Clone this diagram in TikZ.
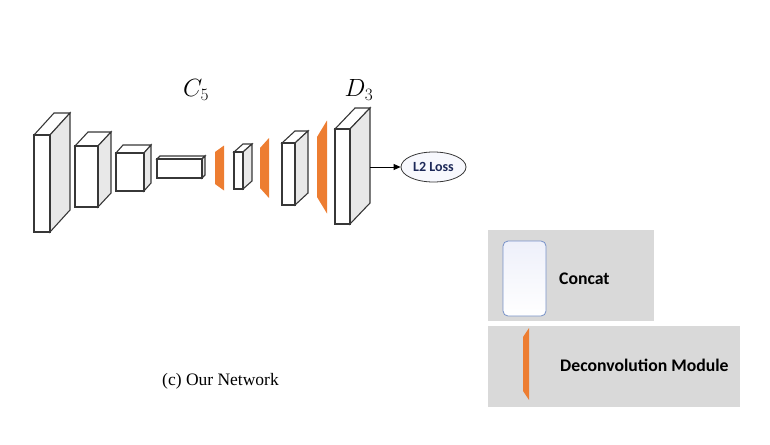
\documentclass[tikz,border=0pt]{standalone}
\usepackage{fontspec}
\newfontfamily\legendfont{Carlito}
\newfontfamily\captionfont{Liberation Serif}
\usetikzlibrary{arrows.meta}
\usetikzlibrary{shapes.geometric}
\definecolor{sidegray}{RGB}{232,232,232}
\definecolor{edgegray}{RGB}{55,55,55}
\definecolor{deconvorange}{RGB}{237,125,49}
\definecolor{legendgray}{RGB}{217,217,217}
\definecolor{concatblue}{RGB}{120,146,200}
\definecolor{concattint}{RGB}{238,240,250}
\definecolor{lossblue}{RGB}{28,40,88}
\definecolor{losstint}{RGB}{247,248,253}
\newcommand\featblock[7]{%
  \coordinate (#1) at (#2,#3);
  \filldraw[blockedge, fill=white] ({#2},{#3}) -- ({#2+#6},{#3+#7}) -- ({#2+#4+#6},{#3+#7}) -- ({#2+#4},{#3}) -- cycle;
  \filldraw[blockedge, fill=sidegray] ({#2+#4},{#3}) -- ({#2+#4+#6},{#3+#7}) -- ({#2+#4+#6},{#3+#5+#7}) -- ({#2+#4},{#3+#5}) -- cycle;
  \filldraw[blockedge, fill=white] ({#2},{#3}) rectangle ({#2+#4},{#3+#5});
}
\newcommand\deconvslice[6]{%
  \coordinate (#1) at ({(#2+#3)/2},#4);
  \fill[deconvorange] ({#2},{#4-#5}) -- ({#3},{#4-#6}) -- ({#3},{#4+#6}) -- ({#2},{#4+#5}) -- cycle;
}

\begin{document}
\begin{tikzpicture}[
    x=1pt, y=-1pt,
    blockedge/.style={draw=edgegray, line width=1.1pt, line join=miter},
    arrowtip/.style={
      -{Triangle[length=7pt,width=6pt]}, line width=0.8pt
    },
    lossnode/.style={ellipse, draw=edgegray, line width=0.8pt, fill=losstint,
      minimum width=65pt, minimum height=30pt, inner sep=0pt,
      font=\legendfont\bfseries\fontsize{14}{16}\selectfont, text=lossblue},
    legendpanel/.style={fill=legendgray, anchor=north west, inner sep=0pt},
    legendtext/.style={anchor=west, inner sep=0pt,
      font=\legendfont\bfseries\fontsize{17.7}{20}\selectfont},
    layerlabel/.style={font=\fontsize{23}{27}\selectfont}
  ]
    \useasboundingbox (0,0) rectangle (770,444);

    \featblock{c1}{34}{135}{16}{97}{20}{-22}
    \featblock{c2}{75}{146}{23}{61}{13}{-14}
    \featblock{c3}{116}{153}{28}{38}{7}{-8}
    \featblock{c5}{157}{159}{45}{19}{3}{-3}
    \deconvslice{up1}{215}{224}{168}{16}{22.5}
    \featblock{d1}{234}{152}{9}{37}{9}{-8}
    \deconvslice{up2}{260}{269}{168}{20}{30}
    \featblock{d2}{282}{143}{13}{62}{13}{-12}
    \deconvslice{up3}{317}{327}{167}{30}{46.5}
    \featblock{d3}{335}{129}{15}{95}{20}{-21}

    \node[layerlabel] (c5label) at (196,90) {$C_5$};
    \node[layerlabel] (d3label) at (359,90) {$D_3$};

    \coordinate (d3out) at (370,167);
    \node[lossnode] (loss) at (433.5,167) {L2 Loss};
    \draw[arrowtip] (d3out) -- (loss);

    \node[anchor=west, inner sep=0pt, font=\captionfont\fontsize{17.5}{20}\selectfont]
      (caption) at (162,381) {(c) Our Network};

    \node[legendpanel, minimum width=166pt, minimum height=91pt] (concatpanel) at (488,230) {};
    \node[legendpanel, minimum width=252pt, minimum height=81pt] (deconvpanel) at (488,326) {};
    \node[draw=concatblue, line width=0.8pt, rounded corners=5pt, top color=concattint,
      bottom color=white, minimum width=43pt, minimum height=75pt, inner sep=0pt]
      (concaticon) at (524.5,278.5) {};
    \deconvslice{deconvicon}{523}{529}{364}{27}{36}
    \node[legendtext] (concatlabel) at (559,279) {Concat};
    \node[legendtext] (deconvlabel) at (560,365) {Deconvolution Module};
  \end{tikzpicture}
\end{document}
